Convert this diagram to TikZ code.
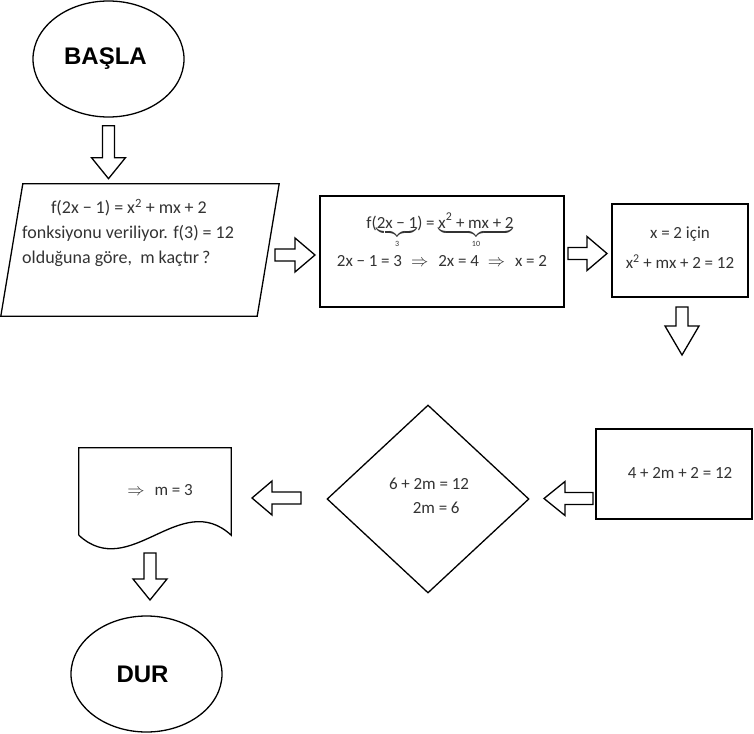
\documentclass[tikz,border=0pt]{standalone}
\usepackage{fontspec}
\usepackage{amsmath}
\setmainfont{Carlito}
\newfontfamily\headfont{Liberation Sans}
\usetikzlibrary{shapes.geometric, positioning}

\newcommand\opsp{\hspace{0.22em}}
\newcommand\impl{\hspace{9pt}$\Rightarrow$\hspace{10pt}}

\tikzset{
  terminal/.style={ellipse, draw, line width=1.3pt, minimum width=151pt, minimum height=116pt, inner sep=0pt,
    font=\headfont\bfseries\fontsize{24}{28}\selectfont},
  process/.style={rectangle, draw, line width=1.3pt, inner sep=0pt},
  decision/.style={diamond, draw, line width=1.3pt, inner sep=0pt, minimum width=202pt, minimum height=188pt},
  txt/.style={font=\fontsize{17}{25}\selectfont, text=black!80, inner sep=0pt},
  pics/blockarrow/.style 2 args={code={
    \draw[line width=1.3pt] (0,-6) -- (#1-#2,-6) -- (#1-#2,-17) -- (#1,0) -- (#1-#2,17) -- (#1-#2,6) -- (0,6) -- cycle;
  }}
}

\begin{document}
\begin{tikzpicture}[x=1pt, y=-1pt, line join=miter]
  \useasboundingbox (0,0) rectangle (754,733);

  \node[terminal] (start) at (108.5,59) {\hspace*{-6pt}BAŞLA};
  \pic[rotate=-90] at ([yshift=-8pt]start.south) {blockarrow={53}{21}};

  % girdi
  \node[minimum width=256pt, minimum height=132pt] (input) at (140,250) {};
  \draw[line width=1.3pt] ([xshift=11pt]input.north west) -- ([xshift=11pt]input.north east)
    -- ([xshift=-11pt]input.south east) -- ([xshift=-11pt]input.south west) -- cycle;
  \node[txt, align=left, anchor=west, font=\fontsize{18}{25}\selectfont] (inputtxt) at (22,233)
    {\hspace*{1.6em}f(2x\opsp−\opsp1)\opsp=\opsp x\textsuperscript{2}\opsp+\opsp mx\opsp+\opsp2\\
     fonksiyonu veriliyor. f(3)\opsp=\opsp12\\
     olduğuna göre,\ \ m kaçtır\,?};
  \pic at (275,255) {blockarrow={40}{20}};

  \node[process, minimum width=244pt, minimum height=111pt] (solve) at (442,251.5) {};
  \node[txt, anchor=base] (solvetxt) at (440,228)
    {$\text{f(}{\underbrace{\text{2x\opsp−\opsp1}}_{\text{\fontsize{8}{8}\selectfont 3}}}\text{)\opsp=\opsp}{\underbrace{\text{x\textsuperscript{2}\opsp+\opsp mx\opsp+\opsp2}}_{\text{\fontsize{8}{8}\selectfont 10}}}$};
  \node[txt, anchor=base] (solvetxtb) at (442,266)
    {2x\opsp−\opsp1\opsp=\opsp3\impl2x\opsp=\opsp4\impl x\opsp=\opsp2};
  \pic at (568,253.5) {blockarrow={39}{20}};

  \node[process, minimum width=136pt, minimum height=93pt] (cond) at (680,250.5) {};
  \node[txt, align=center, font=\fontsize{17}{30}\selectfont] (condtxt) at (680,248)
    {x\opsp=\opsp2 için\\ x\textsuperscript{2}\opsp+\opsp mx\opsp+\opsp2\opsp=\opsp12};
  \pic[rotate=-90] at (682,307) {blockarrow={48}{29}};

  \node[process, minimum width=156pt, minimum height=90pt] (eqn) at (674,474) {};
  \node[txt] (eqntxt) at (680,473) {4\opsp+\opsp2m\opsp+\opsp2\opsp=\opsp12};
  \pic[rotate=180] at (593,498.5) {blockarrow={49}{21}};

  \node[decision] (dec) at (428,499) {};
  \node[txt, align=left, font=\fontsize{17}{24}\selectfont] (dectxt) at (429,496)
    {6\opsp+\opsp2m\opsp=\opsp12\\ \hspace*{1.4em}2m\opsp=\opsp6};
  \pic[rotate=180] at (301,498) {blockarrow={49}{20}};

  % sonuc
  \node[minimum width=152pt, minimum height=87pt] (res) at (155,491.5) {};
  \draw[line width=1.3pt] (res.south west) -- (res.north west) -- (res.north east) -- (res.south east)
    .. controls ([xshift=-51pt, yshift=47pt]res.south east) and ([xshift=51pt, yshift=-47pt]res.south west) .. (res.south west);
  \node[txt] (restxt) at (160,490) {$\Rightarrow$\hspace{10pt}m\opsp=\opsp3};
  \pic[rotate=-90] at (150,553) {blockarrow={47}{21}};

  \node[terminal] (stop) at (146.5,674) {\hspace*{-8pt}DUR};
\end{tikzpicture}
\end{document}
